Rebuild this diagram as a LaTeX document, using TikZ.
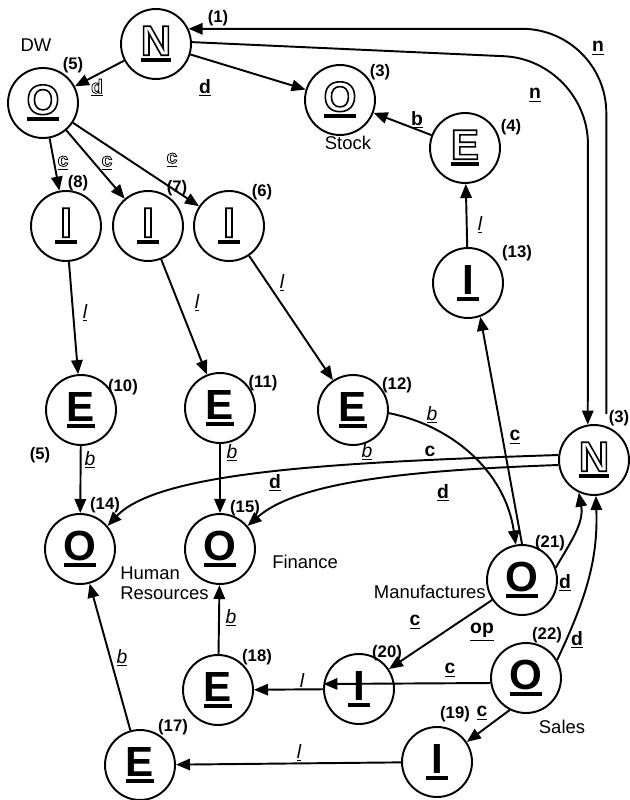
\documentclass[tikz,border=0pt]{standalone}
\usepackage{fontspec}
\setmainfont{Liberation Sans}
\setsansfont{Liberation Sans}
\usetikzlibrary{arrows.meta}

% letter with a thick bar under it
\newcommand{\barlet}[1]{\setbox0=\hbox{#1}\ifdim\wd0<12pt\setbox0=\hbox to 12pt{\hss\unhbox0\hss}\fi\vbox{\box0\kern1.3pt\hrule height 2.4pt}}
% hollow (outline) letters
\newcommand{\outl}[2]{\special{pdf:literal direct 1 Tr #1 w}#2\special{pdf:literal direct 0 Tr}}
\newcommand{\olet}[1]{\barlet{\outl{0.9}{#1}}}
\newcommand{\slet}[1]{\barlet{#1}}
\newcommand{\olab}[1]{\underline{\outl{0.45}{#1}}}

\tikzset{
  state/.style={circle, draw, line width=1.1pt, minimum size=1.4cm, inner sep=0pt,
    font=\fontsize{24}{24}\selectfont\bfseries},
  num/.style={inner sep=0pt, font=\fontsize{9.5}{10}\selectfont\bfseries},
  lab/.style={inner sep=0pt, font=\fontsize{11}{12}\selectfont\bfseries},
  ilab/.style={inner sep=0pt, font=\fontsize{11}{12}\selectfont\itshape},
  tag/.style={inner sep=0pt, font=\fontsize{10.5}{11.5}\selectfont},
  link/.style={line width=1.1pt, -{Triangle[length=8pt,width=6.5pt]}},
}

\begin{document}
\begin{tikzpicture}[x=0.02cm, y=-0.02cm]
        \fill[white] (0,0) rectangle (629,800);
        \useasboundingbox (0,0) rectangle (629,800);

        % Nodes
        \node (n1) [state] at (156,44) {\olet{N}};
        \node (o5) [state] at (43,103) {\olet{O}};
        \node (o3) [state] at (340,100) {\olet{O}};
        \node (e4) [state] at (465,148) {\olet{E}};
        \node (i8) [state] at (66,226) {\olet{I}};
        \node (i7) [state] at (148,226) {\olet{I}};
        \node (i6) [state] at (229,226) {\olet{I}};
        \node (i13) [state] at (468,283) {\slet{I}};
        \node (e10) [state] at (81,410) {\slet{E}};
        \node (e11) [state] at (220,408) {\slet{E}};
        \node (e12) [state] at (353,410) {\slet{E}};
        \node (n3) [state] at (594,460) {\olet{N}};
        \node (o14) [state] at (80,549) {\slet{O}};
        \node (o15) [state] at (220,549) {\slet{O}};
        \node (o21) [state] at (522,580) {\slet{O}};
        \node (o22) [state] at (526,678) {\slet{O}};
        \node (i20) [state] at (359,689) {\slet{I}};
        \node (e18) [state] at (218,690) {\slet{E}};
        \node (i19) [state] at (437,762) {\slet{I}};
        \node (e17) [state] at (140,765) {\slet{E}};

        % Numbers
        \node (k1) [num] at (218,18) {(1)};
        \node (k5) [num] at (73,65) {(5)};
        \node (k3) [num] at (380,72) {(3)};
        \node (k4) [num] at (511,127) {(4)};
        \node (k8) [num] at (78,183) {(8)};
        \node (k7) [num] at (177,188) {(7)};
        \node (k6) [num] at (262,192) {(6)};
        \node (k13) [num] at (517,253) {(13)};
        \node (k10) [num] at (123,387) {(10)};
        \node (k11) [num] at (263,383) {(11)};
        \node (k12) [num] at (397,385) {(12)};
        \node (k3b) [num] at (619,418) {(3)};
        \node (k5b) [num] at (40,455) {(5)};
        \node (k14) [num] at (105,505) {(14)};
        \node (k15) [num] at (245,508) {(15)};
        \node (k21) [num] at (550,543) {(21)};
        \node (k22) [num] at (547,635) {(22)};
        \node (k20) [num] at (387,653) {(20)};
        \node (k18) [num] at (257,657) {(18)};
        \node (k19) [num] at (455,714) {(19)};
        \node (k17) [num] at (173,727) {(17)};

        % Names
        \node (dw) [tag] at (36,45) {DW};
        \node (stock) [tag] at (348,143) {Stock};
        \node (hr) [tag, align=left, anchor=west] at (120,583) {Human\\Resources};
        \node (fin) [tag, anchor=west] at (272,562) {Finance};
        \node (manu) [tag, anchor=east] at (486,592) {Manufactures};
        \node (sales) [tag] at (562,727) {Sales};

        % Edges
        \draw[link] (n1) -- (o5);
        \draw[link] (n1) -- (o3);
        \draw[link] (o5) -- (i8);
        \draw[link] (o5) -- (i7);
        \draw[link] (o5) -- (i6);
        \draw[link] (i8) -- (e10);
        \draw[link] (i7) -- (e11);
        \draw[link] (i6) -- (e12);
        \draw[link] (e10) -- (o14);
        \draw[link] (e11) -- (o15);
        \draw[link] (e12.-5) .. controls (450,425) and (505,470) .. (o21.100);
        \draw[link] (n3.172) .. controls (350,462) and (160,470) .. (o14.40);
        \draw[link] (n3.188) .. controls (420,470) and (300,480) .. (o15.40);
        \draw[link, rounded corners=48pt, shorten <=7pt] (n3.70) |- (n1.25);
        \coordinate (bend) at (588,60);
        \draw[link, rounded corners=48pt] (n1.3) -- (bend) -- (n3.100);
        \draw[link] (e4) -- (o3);
        \draw[link] (i13) -- (e4);
        \draw[link] (o21.north) -- (i13.-70);
        \draw[link] (o21.20) to[out=60, in=-80] (n3.-115);
        \draw[link] (o22.30) to[out=65, in=-88] (n3.-87);
        \draw[link] (o21) -- (i20);
        \draw[link] (o22.188) -- (i20.172);
        \draw[link] (o22.-117) -- (i19.34);
        \draw[link] (i20) -- (e18);
        \draw[link] (i19) -- (e17);
        \draw[link] (e18) -- (o15);
        \draw[link] (e17) -- (o14);

        % Edge labels
        \node (a1) [lab] at (97,88) {\olab{d}};
        \node (a2) [lab] at (205,88) {\underline{d}};
        \node (a3) [lab] at (63,163) {\olab{c}};
        \node (a4) [lab] at (107,163) {\olab{c}};
        \node (a5) [lab] at (172,160) {\olab{c}};
        \node (a6) [ilab] at (85,313) {\underline{l}};
        \node (a7) [ilab] at (197,303) {\underline{l}};
        \node (a8) [ilab] at (282,283) {\underline{l}};
        \node (a9) [ilab] at (90,460) {\underline{b}};
        \node (a10) [ilab] at (232,453) {\underline{b}};
        \node (a11) [ilab] at (432,415) {\underline{b}};
        \node (a12) [ilab] at (367,452) {\underline{b}};
        \node (a13) [lab] at (430,453) {\underline{c}};
        \node (a14) [lab] at (275,483) {\underline{d}};
        \node (a15) [lab] at (443,493) {\underline{d}};
        \node (a16) [lab] at (515,437) {\underline{c}};
        \node (a17) [lab] at (417,120) {\underline{b}};
        \node (a18) [ilab] at (480,225) {\underline{l}};
        \node (a19) [lab] at (598,48) {\underline{n}};
        \node (a20) [lab] at (535,95) {\underline{n}};
        \node (a21) [lab] at (565,583) {\underline{d}};
        \node (a22) [lab] at (577,640) {\underline{d}};
        \node (a23) [lab] at (415,622) {\underline{c}};
        \node (a24) [lab] at (482,632) {\underline{op}};
        \node (a25) [lab] at (450,670) {\underline{c}};
        \node (a26) [lab] at (482,713) {\underline{c}};
        \node (a27) [ilab] at (302,682) {\underline{l}};
        \node (a28) [ilab] at (299,753) {\underline{l}};
        \node (a29) [ilab] at (231,618) {\underline{b}};
        \node (a30) [ilab] at (122,658) {\underline{b}};
    \end{tikzpicture}
\end{document}
